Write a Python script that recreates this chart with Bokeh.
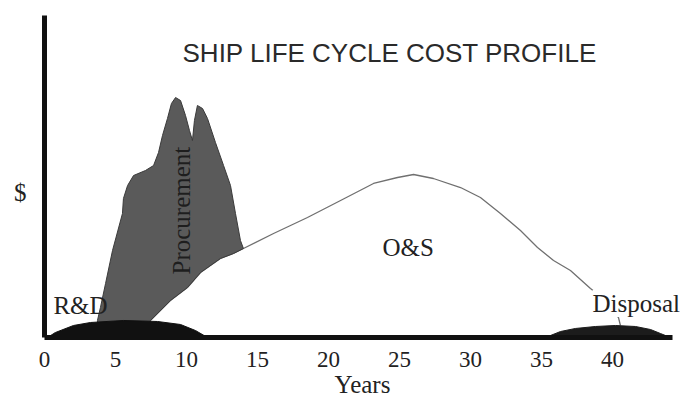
import math
from bokeh.plotting import figure
from bokeh.models import Range1d, FixedTicker, Label
from bokeh.embed import file_html
from bokeh.resources import INLINE

# ---- data (x = years, y = cost in arbitrary "$" units) ----
tick_years = [0, 5, 10, 15, 20, 25, 30, 35, 40]

rd_years = [0.21, 0.77, 2.04, 3.24, 5.56, 7.96, 9.58, 10.63, 11.48]
rd_cost = [0.0, 1.55, 3.73, 4.66, 5.28, 4.97, 4.04, 2.17, 0.0]

proc_years = [3.73, 3.94, 4.30, 4.79, 5.49, 5.56, 5.85, 6.27, 7.11, 7.68, 8.03, 8.31,
              8.66, 8.94, 9.23, 9.58, 9.93, 10.21, 10.42, 10.56, 10.77, 11.13, 11.48,
              12.04, 12.61, 13.10, 13.45, 13.80, 14.01, 13.31, 12.39, 10.99, 10.07,
              8.87, 7.46, 7.46, 3.73]
proc_cost = [5.28, 9.32, 16.77, 27.02, 38.51, 43.17, 47.20, 50.31, 51.86, 53.42, 57.45,
             62.73, 68.01, 72.67, 74.53, 73.60, 68.94, 64.29, 61.18, 67.39, 72.05, 71.12,
             68.01, 60.56, 53.42, 47.20, 38.51, 30.12, 27.64, 26.09, 24.53, 20.19, 15.53,
             11.49, 5.28, 0.0, 0.0]

os_years = [7.46, 8.87, 10.07, 10.99, 12.39, 13.31, 14.01, 16.13, 18.52, 20.85, 23.17,
            24.86, 25.99, 27.39, 29.30, 30.70, 32.11, 33.52, 34.72, 35.85, 37.04, 38.45,
            39.51, 40.42, 40.56]
os_cost = [5.28, 11.49, 15.53, 20.19, 24.53, 26.09, 27.64, 32.30, 37.27, 42.55, 47.83,
           49.69, 50.62, 49.38, 46.58, 43.48, 38.51, 33.23, 27.95, 23.91, 20.81, 15.22,
           11.49, 6.21, 3.73]

disp_years = [35.28, 36.34, 37.39, 38.80, 40.21, 41.62, 42.68, 43.38, 44.08]
disp_cost = [0.0, 1.86, 2.80, 3.42, 3.73, 3.42, 2.48, 1.24, 0.0]

SERIF = "Liberation Serif"
SANS = "Liberation Sans"

p = figure(width=680, height=400,
           x_range=Range1d(0, 44.79), y_range=Range1d(0, 100),
           output_backend="svg", toolbar_location=None,
           min_border_left=44, min_border_right=0,
           min_border_top=15, min_border_bottom=63)
p.outline_line_color = None
p.grid.visible = False
p.background_fill_color = "white"
p.border_fill_color = "white"

# x axis
p.xaxis.bounds = (0, 44.23)
p.xaxis.ticker = FixedTicker(ticks=tick_years)
p.xaxis.axis_line_width = 5
p.xaxis.axis_line_color = "#111111"
p.xaxis.major_tick_line_color = None
p.xaxis.minor_tick_line_color = None
p.xaxis.major_tick_out = 0
p.xaxis.major_label_standoff = 14
p.xaxis.major_label_text_font = SERIF
p.xaxis.major_label_text_font_size = "23px"
p.xaxis.major_label_text_color = "#222222"
p.xaxis.axis_label = "Years"
p.xaxis.axis_label_text_font = SERIF
p.xaxis.axis_label_text_font_style = "normal"
p.xaxis.axis_label_text_font_size = "25px"
p.xaxis.axis_label_text_color = "#222222"
p.xaxis.axis_label_standoff = 1

# y axis (line only + "$")
p.yaxis.ticker = FixedTicker(ticks=[])
p.yaxis.axis_line_width = 5
p.yaxis.axis_line_color = "#111111"
p.yaxis.major_tick_line_color = None
p.yaxis.minor_tick_line_color = None
p.yaxis.major_label_text_font_size = "0px"
p.yaxis.axis_label = "\n$"
p.yaxis.axis_label_orientation = "horizontal"
p.yaxis.axis_label_text_font = SERIF
p.yaxis.axis_label_text_font_style = "normal"
p.yaxis.axis_label_text_font_size = "25px"
p.yaxis.axis_label_text_color = "#222222"
p.yaxis.axis_label_standoff = 18

# O&S area
p.varea(x=os_years, y1=[0] * len(os_years), y2=os_cost, fill_color="white")
p.line(os_years, os_cost, line_color="#707070", line_width=1.3)

# Procurement
p.patch(proc_years, proc_cost, fill_color="#5a5a5a", line_color="#3a3a3a", line_width=1)

# R&D and Disposal humps
p.patch(rd_years, rd_cost, fill_color="#111111", line_color="#111111")
p.patch(disp_years, disp_cost, fill_color="#1c1c1c", line_color="#1c1c1c")

def lab(text, x, y, size, font=SERIF, align="left", baseline="alphabetic", angle=0.0,
        color="#222222", bg=None):
    kw = {}
    if bg is not None:
        kw["background_fill_color"] = bg
    p.add_layout(Label(x=x, y=y, text=text, text_font=font, text_font_size=size,
                       text_align=align, text_baseline=baseline, angle=angle,
                       text_color=color, **kw))

lab("SHIP LIFE CYCLE COST PROFILE", 9.72, 88.5, "26px", font=SANS, color="#2a2a2a")
lab("R&D", 0.63, 9.93, "25px")
lab("Procurement", 9.65, 39.4, "25px", align="center", angle=math.pi / 2, color="#1e1e1e")
lab("O&S", 23.80, 27.94, "25px")
lab("Disposal", 38.59, 10.55, "25px", bg="white")

open("out.html", "w").write(file_html(p, INLINE))
